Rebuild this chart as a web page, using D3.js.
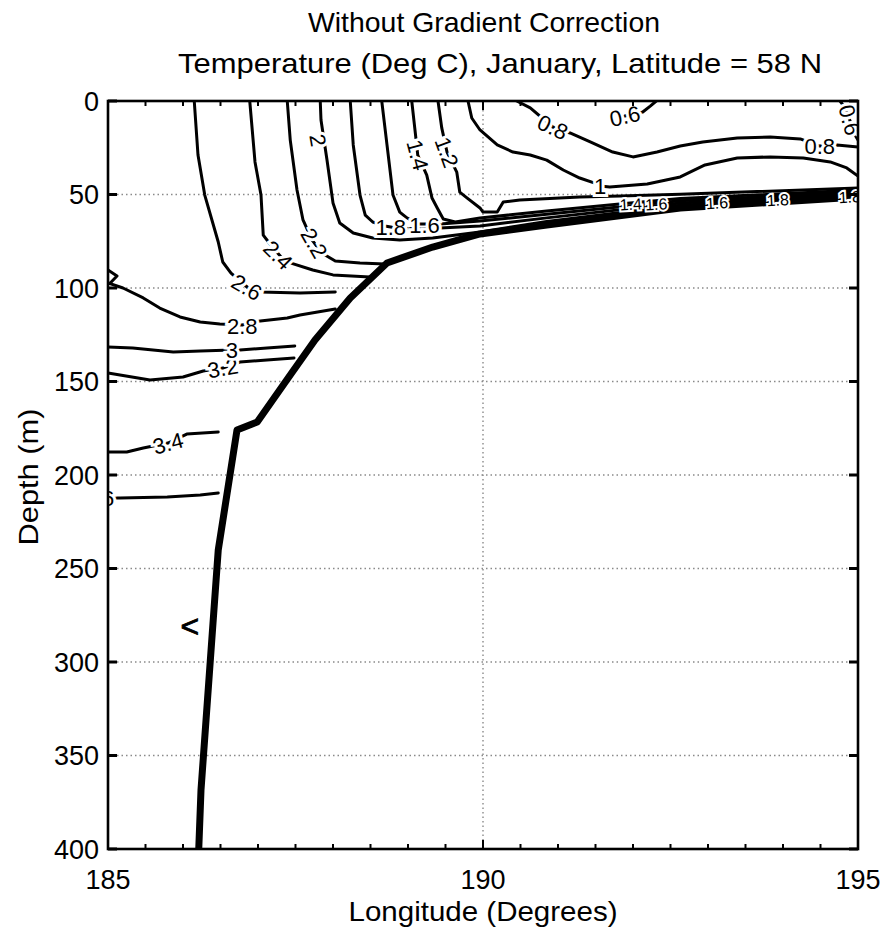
<!DOCTYPE html>
<html>
<head>
<meta charset="utf-8">
<script src="https://cdn.jsdelivr.net/npm/d3@7/dist/d3.min.js"></script>
<style>
  body { margin: 0; background: #fff; }
  text { font-family: "Liberation Sans", Arial, Helvetica, sans-serif; fill: #000; }
</style>
</head>
<body>
<svg id="chart" width="886" height="932"></svg>
<script>
// ---- data: [longitude, depth] ----
const lonTicks = [185, 190, 195];
const depthTicks = [0, 50, 100, 150, 200, 250, 300, 350, 400];
const lonGrid = [190];
const depthGrid = [50, 100, 150, 200, 250, 300, 350];

// sea floor
const bathymetry = [[186.21, 400], [186.24, 368.4], [186.47, 240.1], [186.72, 175.9], [186.99, 171.7],
  [187.43, 146.5], [187.76, 127.8], [188.23, 105.3], [188.72, 86.6], [189.33, 78.1], [189.96, 71.1],
  [190.85, 66.3], [192.63, 57.2], [195, 51.3]];

// temperature contours
const c36 = [[185, 212.3], [185.16, 212.3], [185.79, 211.8], [186.23, 210.7], [186.47, 209.6]];
const c34 = [[185, 187.7], [185.25, 187.7], [185.47, 185.6], [185.8, 182.9], [186.05, 178.1], [186.47, 177]];
const c32 = [[185, 145.5], [185.16, 146.5], [185.56, 149.2], [186, 147.6], [186.27, 144.4], [186.53, 142.8],
  [186.76, 139.6], [187.12, 138.5], [187.48, 137.4]];
const c30 = [[185, 131.6], [185.33, 132.1], [185.87, 134.2], [186.23, 133.7], [186.65, 133.2], [186.76, 133.2],
  [187.12, 132.1], [187.49, 131]];
const c28 = [[185, 97.3], [185.2, 100], [185.47, 105.3], [185.69, 110.7], [185.96, 115.5], [186.23, 118.2],
  [186.49, 119.3], [186.79, 119.8], [187.03, 117.6], [187.39, 116], [187.56, 114.4], [188.03, 111.2]];
const c26wedge = [[185, 90.4], [185.12, 93.6], [185.03, 97.3]];
const c26 = [[186.15, 0], [186.2, 28.9], [186.29, 50.3], [186.47, 75.4], [186.53, 86.1], [186.64, 92],
  [186.87, 100], [187.03, 102.1], [187.56, 102.7], [188.03, 102.1]];
const c24 = [[186.89, 0], [186.96, 32.6], [187.04, 50.3], [187.07, 71.7], [187.17, 77], [187.32, 84],
  [187.43, 86.6], [187.73, 90.4], [188.0, 93], [188.49, 94.1]];
const c22 = [[187.39, 0], [187.43, 20.9], [187.52, 47.6], [187.6, 63.6], [187.72, 74.3], [187.85, 81.3],
  [188.03, 85.6], [188.36, 86.6], [188.69, 87.2]];
const c20 = [[187.83, 0], [187.84, 10.2], [187.88, 20.9], [187.92, 31.6], [188.0, 54.5], [188.09, 65.2],
  [188.27, 70.6], [188.53, 73.3], [188.89, 74.3], [189.33, 73.3], [189.96, 70.1], [190.85, 64.4],
  [192.63, 55.8], [195, 50.5]];
const c18 = [[188.23, 0], [188.27, 23.5], [188.36, 50.3], [188.43, 61], [188.53, 64.7], [188.69, 66.8],
  [188.85, 67.9], [189.16, 68.4], [189.96, 66.8], [190.85, 62.5], [192.63, 54.6], [195, 49.6]];
const c16 = [[188.65, 0], [188.72, 23.5], [188.8, 50.3], [188.89, 59.4], [188.99, 62.6], [189.13, 65.8],
  [189.43, 65.8], [189.96, 64.2], [190.85, 60.6], [192.63, 53.4], [195, 48.7]];
const c14 = [[189.05, 0], [189.09, 14.4], [189.13, 28.9], [189.25, 39.6], [189.32, 51.9], [189.39, 57.2],
  [189.47, 63.1], [189.63, 64.7], [189.96, 62.6], [190.85, 58.8], [191.89, 54.8], [192.63, 52.2], [195, 47.6]];
const c12 = [[189.4, 0], [189.45, 14.4], [189.52, 27.3], [189.65, 38], [189.69, 48.7], [189.79, 51.9],
  [189.96, 57.2], [190, 59.4], [190.19, 59.4], [190.27, 54], [190.49, 52.9], [191.29, 51.3],
  [191.83, 50.8], [192.63, 49.9], [195, 46.5]];
const c10 = [[189.8, 0], [189.85, 9.1], [189.96, 15.5], [190.19, 23.5], [190.4, 27.3], [190.63, 28.9],
  [190.85, 31.6], [191.07, 36.9], [191.29, 41.2], [191.49, 43.9], [191.56, 45.5], [191.69, 46],
  [192.19, 44.4], [192.63, 40.6], [192.96, 34.2], [193.39, 30.5], [193.83, 29.9], [194.27, 30.5],
  [194.63, 32.6], [194.85, 35.8], [195, 40.1]];
const c08 = [[190.45, 0], [190.63, 3.7], [190.93, 13.9], [191.16, 17.1], [191.43, 21.9], [191.73, 27.3],
  [192, 29.9], [192.32, 27.3], [192.63, 24.1], [192.93, 21.9], [193.39, 19.8], [193.83, 19.3],
  [194.23, 20.3], [194.49, 24.1], [194.72, 23.5], [195, 24.6]];
const c06a = [[191.89, 8], [192.13, 5.9], [192.23, 2.7], [192.31, 0]];
const c06b = [[194.76, 0], [194.83, 3.7], [194.89, 10.2], [194.96, 18.2], [195, 20.9]];

const contours = [c36, c34, c32, c30, c28, c26wedge, c26, c24, c22, c20, c18, c16, c14, c12, c10, c08, c06a, c06b];

// contour labels: text, lon, depth, angle, size
const labelText  = ["3.6", "3.4", "3.2", "3", "2.8", "2.6", "2.4", "2.2", "2", "1.8", "1.6", "1.4", "1.2", "1", "0.8", "0.8", "0.6", "0.6",
  "1.4", "1.6", "1.6", "1.8", "1.8"];
const labelLon   = [184.88, 185.8, 186.53, 186.65, 186.79, 186.85, 187.27, 187.75, 187.8, 188.77, 189.22, 189.13, 189.52, 191.56, 190.93, 194.49, 191.89, 194.89,
  191.97, 192.31, 193.12, 193.93, 194.89];
const labelDepth = [212.3, 182.9, 142.8, 133.2, 120.3, 99.5, 82.4, 75.9, 20.9, 67.6, 66.3, 28.9, 27.3, 45.5, 13.9, 24.1, 8, 10.2,
  55.1, 55.1, 54.5, 52.9, 51.3];
const labelAngle = [0, -15, -10, 0, 0, 30, 45, 60, 80, 0, 0, 75, 70, 0, 25, 0, -12, 75,
  -3, -3, -3, -3, -3];
const labelSize  = [22, 22, 22, 22, 22, 22, 22, 22, 22, 22, 22, 22, 22, 22, 22, 22, 22, 22,
  16, 16, 16, 16, 16];

// odd mark on the slope
const markText = ["<"];
const markLon = [186.09];
const markDepth = [280.7];

// ---- layout ----
const svg = d3.select('#chart');
const M = { left: 108, top: 101, right: 28, bottom: 83 };
const W = 886 - M.left - M.right, H = 932 - M.top - M.bottom;

const x = d3.scaleLinear().domain([185, 195]).range([M.left, M.left + W]);
const y = d3.scaleLinear().domain([0, 400]).range([M.top, M.top + H]);

svg.append('defs').append('clipPath').attr('id', 'plot-clip')
  .append('rect').attr('x', M.left).attr('y', M.top).attr('width', W).attr('height', H);

// titles
svg.append('text').attr('x', 484).attr('y', 32).attr('text-anchor', 'middle')
  .attr('font-size', 28).attr('textLength', 352).attr('lengthAdjust', 'spacingAndGlyphs')
  .text('Without Gradient Correction');
svg.append('text').attr('x', 500).attr('y', 73).attr('text-anchor', 'middle')
  .attr('font-size', 28).attr('textLength', 644).attr('lengthAdjust', 'spacingAndGlyphs')
  .text('Temperature (Deg C), January, Latitude = 58 N');

// grid (dotted)
const grid = svg.append('g').attr('stroke', '#8a8a8a').attr('stroke-width', 1.4).attr('stroke-dasharray', '1.5,3');
grid.selectAll('.hg').data(depthGrid).enter().append('line')
  .attr('x1', M.left).attr('x2', M.left + W).attr('y1', d => y(d)).attr('y2', d => y(d));
grid.selectAll('.vg').data(lonGrid).enter().append('line')
  .attr('y1', M.top).attr('y2', M.top + H).attr('x1', d => x(d)).attr('x2', d => x(d));

// contours + sea floor
const plot = svg.append('g').attr('clip-path', 'url(#plot-clip)');
const line = d3.line().x(d => x(d[0])).y(d => y(d[1]));

plot.selectAll('.contour').data(contours).enter().append('path')
  .attr('class', 'contour').attr('d', line)
  .attr('fill', 'none').attr('stroke', '#000').attr('stroke-width', 3)
  .attr('stroke-linejoin', 'round').attr('stroke-linecap', 'round');

plot.append('path').datum(bathymetry).attr('d', line)
  .attr('fill', 'none').attr('stroke', '#000').attr('stroke-width', 7)
  .attr('stroke-linejoin', 'round');

// contour labels with white gaps
const labels = labelText.map((t, i) => ({ t, lon: labelLon[i], d: labelDepth[i], a: labelAngle[i], s: labelSize[i] }));
plot.selectAll('.clabel').data(labels).enter().append('text')
  .attr('class', 'clabel')
  .attr('transform', d => `translate(${x(d.lon)},${y(d.d)}) rotate(${d.a})`)
  .attr('text-anchor', 'middle').attr('dy', '0.36em')
  .attr('font-size', d => d.s)
  .attr('stroke', '#fff').attr('stroke-width', d => d.s > 18 ? 6 : 4)
  .attr('paint-order', 'stroke')
  .text(d => d.t);

plot.selectAll('.mark').data(markText).enter().append('text')
  .attr('x', (d, i) => x(markLon[i])).attr('y', (d, i) => y(markDepth[i]))
  .attr('dy', '0.36em').attr('text-anchor', 'middle')
  .attr('font-size', 32).attr('stroke', '#000').attr('stroke-width', 0.8)
  .text(d => d);

// frame
svg.append('rect').attr('x', M.left).attr('y', M.top).attr('width', W).attr('height', H)
  .attr('fill', 'none').attr('stroke', '#000').attr('stroke-width', 2.6);

// x ticks (inward, top and bottom)
const lonMinor = d3.range(185.5, 195, 0.5);
const ticks = svg.append('g').attr('stroke', '#000');
[M.top + H, M.top].forEach((y0, k) => {
  const dir = k === 0 ? -1 : 1;
  ticks.append('g').selectAll('line').data(lonMinor).enter().append('line')
    .attr('x1', d => x(d)).attr('x2', d => x(d))
    .attr('y1', y0).attr('y2', d => y0 + dir * (d % 5 === 0 ? 9 : 5))
    .attr('stroke-width', 2);
});
// y ticks (inward, left and right)
[M.left, M.left + W].forEach((x0, k) => {
  const dir = k === 0 ? 1 : -1;
  ticks.append('g').selectAll('line').data(depthTicks).enter().append('line')
    .attr('y1', d => y(d)).attr('y2', d => y(d))
    .attr('x1', x0).attr('x2', x0 + dir * 9)
    .attr('stroke-width', 3);
});

// tick labels
svg.append('g').selectAll('text').data(lonTicks).enter().append('text')
  .attr('x', d => x(d)).attr('y', 889).attr('text-anchor', 'middle')
  .attr('font-size', 27).text(d => d);
svg.append('g').selectAll('text').data(depthTicks).enter().append('text')
  .attr('x', 99).attr('y', d => y(d)).attr('dy', '0.36em').attr('text-anchor', 'end')
  .attr('font-size', 27).text(d => d);

// axis labels
svg.append('text').attr('x', 483).attr('y', 921).attr('text-anchor', 'middle')
  .attr('font-size', 28).attr('textLength', 269).attr('lengthAdjust', 'spacingAndGlyphs')
  .text('Longitude (Degrees)');
svg.append('text').attr('transform', 'translate(38,477) rotate(-90)').attr('text-anchor', 'middle')
  .attr('font-size', 28).attr('textLength', 137).attr('lengthAdjust', 'spacingAndGlyphs')
  .text('Depth (m)');
</script>
</body>
</html>
